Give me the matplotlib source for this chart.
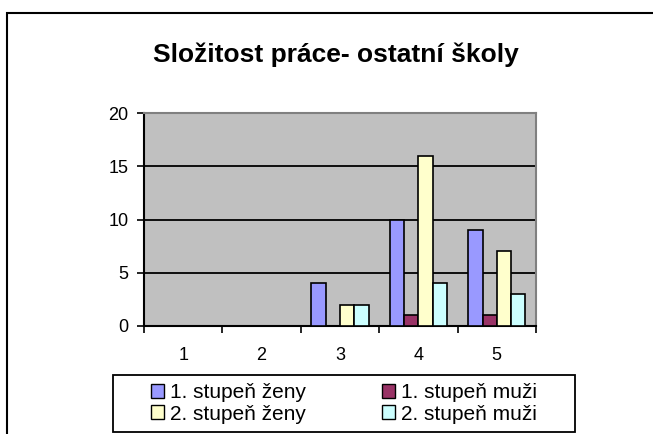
import matplotlib
matplotlib.use("Agg")
import matplotlib.pyplot as plt
from matplotlib.patches import Rectangle, Patch
import numpy as np

plt.rcParams['font.family'] = ['Liberation Sans', 'DejaVu Sans']

title = "Složitost práce- ostatní školy"
categories = ["1", "2", "3", "4", "5"]
series_names = ["1. stupeň ženy", "1. stupeň muži", "2. stupeň ženy", "2. stupeň muži"]
s1_zeny = [0, 0, 4, 10, 9]
s1_muzi = [0, 0, 0, 1, 1]
s2_zeny = [0, 0, 2, 16, 7]
s2_muzi = [0, 0, 2, 4, 3]
series = [s1_zeny, s1_muzi, s2_zeny, s2_muzi]
colors = ["#9999FF", "#993366", "#FFFFCC", "#CCFFFF"]
yticks = [0, 5, 10, 15, 20]

W, H = 653, 434
fig = plt.figure(figsize=(W / 100, H / 100), dpi=100)

# outer chart border
fig.patches.append(Rectangle((7 / W, -0.1), 1.2, (H - 13) / H + 0.1, transform=fig.transFigure,
                             fill=False, edgecolor="black", linewidth=1.5, figure=fig))

left, right, top, bottom = 144, 536, 113, 326
ax = fig.add_axes([left / W, (H - bottom) / H, (right - left) / W, (bottom - top) / H])
ax.set_facecolor("#C0C0C0")

n = len(series)
bw = 1 / 5.5
x = np.arange(len(categories))
for i, (vals, c) in enumerate(zip(series, colors)):
    xs = x + (i - (n - 1) / 2) * bw
    ax.bar(xs, vals, width=bw, color=c, edgecolor="black", linewidth=1.2, zorder=3,
           label=series_names[i])

ax.set_xlim(-0.5, len(categories) - 0.5)
ax.set_ylim(0, 20)
ax.set_yticks(yticks)
ax.set_yticklabels([str(t) for t in yticks], fontsize=13)
for t in yticks[1:-1]:
    ax.axhline(t, color="black", linewidth=1.3, zorder=1)

ax.set_xticks(np.arange(-0.5, len(categories), 1.0))
ax.set_xticklabels([])
ax.set_xticks(x, minor=True)
ax.set_xticklabels(categories, minor=True, fontsize=13)
ax.tick_params(axis="x", which="major", direction="out", length=5, width=1.2)
ax.tick_params(axis="x", which="minor", length=0, pad=15)
ax.tick_params(axis="y", direction="out", length=5, width=1.2, pad=6)

ax.spines["left"].set_color("black")
ax.spines["left"].set_linewidth(1.5)
ax.spines["bottom"].set_color("black")
ax.spines["bottom"].set_linewidth(1.5)
ax.spines["top"].set_color("#808080")
ax.spines["top"].set_linewidth(1.5)
ax.spines["right"].set_color("#808080")
ax.spines["right"].set_linewidth(1.5)

fig.text(336 / W, 1 - 55 / H, title, ha="center", va="center", fontsize=19, fontweight="bold")

# legend (row-major order as in reference: row1 = 1. stupeň, row2 = 2. stupeň)
order = [0, 2, 1, 3]
handles = [Patch(facecolor=colors[i], edgecolor="black", linewidth=1.0) for i in order]
labels = [series_names[i] for i in order]
lx0, ly0, lx1, ly1 = 113, 375, 575, 432
leg = fig.legend(handles, labels, ncol=2, loc="center",
                 bbox_to_anchor=((lx0 + lx1) / 2 / W, 1 - (ly0 + ly1) / 2 / H),
                 fontsize=15, frameon=False, handlelength=0.65, handleheight=0.65,
                 handletextpad=0.3, columnspacing=3.6, labelspacing=0.12, borderpad=0.2)
fig.patches.append(Rectangle((lx0 / W, 1 - ly1 / H), (lx1 - lx0) / W, (ly1 - ly0) / H,
                             transform=fig.transFigure, fill=False, edgecolor="black",
                             linewidth=1.3, figure=fig))

fig.savefig("out.png", dpi=100)
